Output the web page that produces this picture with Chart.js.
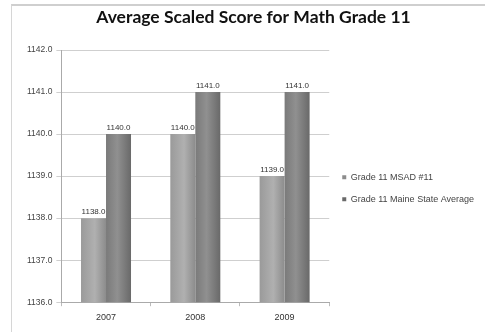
<!DOCTYPE html>
<html>
<head>
<meta charset="utf-8">
<script src="https://cdn.jsdelivr.net/npm/chart.js@4/dist/chart.umd.min.js"></script>
<style>
  html, body { margin: 0; padding: 0; background: #fff; }
  #wrap { position: relative; width: 485px; height: 332px; }
  #frame { position: absolute; left: 11px; top: 4px; right: 0; bottom: 0;
           border-left: 1px solid #d6d6d6; border-top: 2px solid #cfcfcf; pointer-events: none; }
</style>
</head>
<body>
<div id="wrap">
  <canvas id="scoreChart" width="485" height="332"></canvas>
  <div id="frame"></div>
</div>
<script>
var years = ["2007", "2008", "2009"];
var msadScores = [1138.0, 1140.0, 1139.0];
var stateScores = [1140.0, 1141.0, 1141.0];
var yTicks = [1136, 1137, 1138, 1139, 1140, 1141, 1142];

var CAT_PCT = 0.56;

// shaded bar fill, worked out from the x scale so each bar gets its own gradient
function barShade(stops, flat) {
  return function(ctx) {
    var chart = ctx.chart;
    var xs = chart.scales && chart.scales.x;
    if (!chart.chartArea || !xs || ctx.dataIndex === undefined) return flat;
    var center = xs.getPixelForValue(ctx.dataIndex);
    var catW = (xs.right - xs.left) / years.length;
    var group = catW * CAT_PCT;
    var barW = group / 2;
    var left = center - group / 2 + ctx.datasetIndex * barW;
    var g = chart.ctx.createLinearGradient(left, 0, left + barW, 0);
    stops.forEach(function(s) { g.addColorStop(s[0], s[1]); });
    return g;
  };
}

var valueLabels = {
  id: 'valueLabels',
  afterDatasetsDraw: function(chart) {
    var c = chart.ctx;
    c.save();
    c.font = '8px "Liberation Sans", sans-serif';
    c.fillStyle = '#333';
    c.textAlign = 'center';
    c.textBaseline = 'bottom';
    chart.data.datasets.forEach(function(ds, i) {
      chart.getDatasetMeta(i).data.forEach(function(bar, j) {
        c.fillText(ds.data[j].toFixed(1), bar.x, bar.y - 2);
      });
    });
    c.restore();
  }
};

new Chart(document.getElementById('scoreChart'), {
  type: 'bar',
  data: {
    labels: years,
    datasets: [{
      label: 'Grade 11 MSAD #11',
      data: msadScores,
      backgroundColor: barShade([[0, '#9a9a9a'], [0.55, '#b0b0b0'], [1, '#8c8c8c']], '#a4a4a4'),
      categoryPercentage: CAT_PCT,
      barPercentage: 1
    }, {
      label: 'Grade 11 Maine State Average',
      data: stateScores,
      backgroundColor: barShade([[0, '#7a7a7a'], [0.45, '#909090'], [1, '#696969']], '#808080'),
      categoryPercentage: CAT_PCT,
      barPercentage: 1
    }]
  },
  options: {
    responsive: false,
    animation: false,
    layout: { padding: { left: 23, right: 1, top: 7, bottom: 3 } },
    plugins: {
      title: {
        display: true,
        text: 'Average Scaled Score for Math Grade 11',
        color: '#111',
        font: { family: 'Lato', size: 17.5, weight: 'bold' },
        padding: { top: 0, bottom: 22 }
      },
      legend: {
        position: 'right',
        maxWidth: 180,
        title: { display: true, text: ' ', font: { size: 2 }, padding: { top: 19, bottom: 19 } },
        labels: {
          boxWidth: 4,
          boxHeight: 4,
          padding: 13,
          color: '#444',
          font: { family: '"Liberation Sans"', size: 9 }
        }
      },
      tooltip: { enabled: false }
    },
    scales: {
      x: {
        grid: { offset: true, drawOnChartArea: false, drawTicks: true, tickLength: 4, color: '#bbb' },
        border: { color: '#aaa' },
        ticks: { color: '#333', font: { family: '"Liberation Sans"', size: 9 }, padding: 6 }
      },
      y: {
        min: yTicks[0],
        max: yTicks[yTicks.length - 1],
        afterBuildTicks: function(axis) {
          axis.ticks = yTicks.map(function(v) { return { value: v }; });
        },
        grid: { color: '#cfcfcf', tickLength: 5 },
        border: { color: '#aaa' },
        ticks: {
          color: '#444',
          font: { family: '"Liberation Sans"', size: 8.5 },
          padding: 4,
          callback: function(v) { return Number(v).toFixed(1); }
        }
      }
    }
  },
  plugins: [valueLabels]
});
</script>
</body>
</html>
